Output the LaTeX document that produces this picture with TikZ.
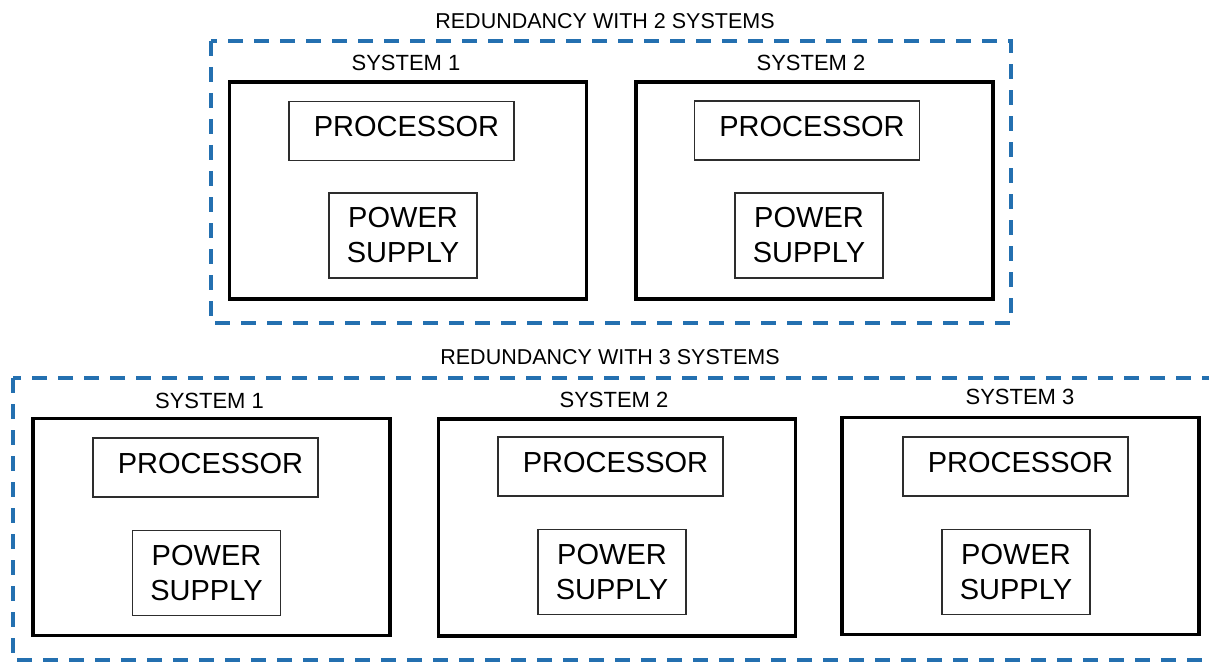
\documentclass[tikz,border=0pt]{standalone}
\usepackage{fontspec}
\setmainfont{Liberation Sans}
\definecolor{groupblue}{RGB}{36,112,176}
\definecolor{innergray}{RGB}{45,45,45}
\tikzset{
  group/.style={draw=groupblue, line width=3.4pt, dash pattern=on 15pt off 11pt},
  grouptitle/.style={anchor=base, font=\fontsize{21.5}{24}\selectfont, inner sep=0pt},
  sysbox/.style={draw=black, line width=3.3pt, minimum width=357pt, minimum height=217pt, inner sep=0pt},
  syslabel/.style={anchor=base, font=\fontsize{22}{26}\selectfont, inner sep=0pt},
  procbox/.style={draw=innergray, line width=1.5pt, minimum width=225pt, minimum height=59pt, inner sep=0pt,
    label={[font=\fontsize{29}{34}\selectfont, xshift=5pt, yshift=4pt, inner sep=0pt]center:PROCESSOR}},
  psubox/.style={draw=innergray, line width=1.5pt, minimum width=148pt, minimum height=85pt, inner sep=0pt,
    align=center, font=\fontsize{29}{35}\selectfont}
}
\begin{document}
\begin{tikzpicture}[x=1pt, y=-1pt]
\useasboundingbox (0,0) rectangle (1209,663);

% two-system group
\node[grouptitle] (t2) at (605,29) {REDUNDANCY WITH 2 SYSTEMS};
\coordinate (g2a) at (211,41);
\coordinate (g2b) at (1011,323);
\draw[group] (g2a) rectangle (g2b);

\node[sysbox] (a1) at (408,190.5) {};
\node[syslabel] (la1) at (406,71) {SYSTEM 1};
\node[procbox] (pa1) at (401.5,131) {};
\node[psubox] (sa1) at (403,235.5) {POWER\\SUPPLY};

\node[sysbox] (a2) at (814.5,190.5) {};
\node[syslabel] (la2) at (811,71) {SYSTEM 2};
\node[procbox] (pa2) at (807,130.5) {};
\node[psubox] (sa2) at (809,235.5) {POWER\\SUPPLY};

% three-system group (right edge runs past the page)
\node[grouptitle] (t3) at (610,364) {REDUNDANCY WITH 3 SYSTEMS};
\coordinate (g3a) at (13,378);
\coordinate (g3b) at (1230,660);
\draw[group] (g3a) rectangle (g3b);

\node[sysbox] (b1) at (211.5,527) {};
\node[syslabel] (lb1) at (209.5,408) {SYSTEM 1};
\node[procbox] (pb1) at (205.5,467.5) {};
\node[psubox] (sb1) at (206.5,573) {POWER\\SUPPLY};

\node[sysbox] (b2) at (617,527.5) {};
\node[syslabel] (lb2) at (614,407) {SYSTEM 2};
\node[procbox] (pb2) at (610.5,466.5) {};
\node[psubox] (sb2) at (612,572) {POWER\\SUPPLY};

\node[sysbox] (b3) at (1020.5,526) {};
\node[syslabel] (lb3) at (1020,404) {SYSTEM 3};
\node[procbox] (pb3) at (1015.5,466.5) {};
\node[psubox] (sb3) at (1016,572) {POWER\\SUPPLY};
\end{tikzpicture}
\end{document}
